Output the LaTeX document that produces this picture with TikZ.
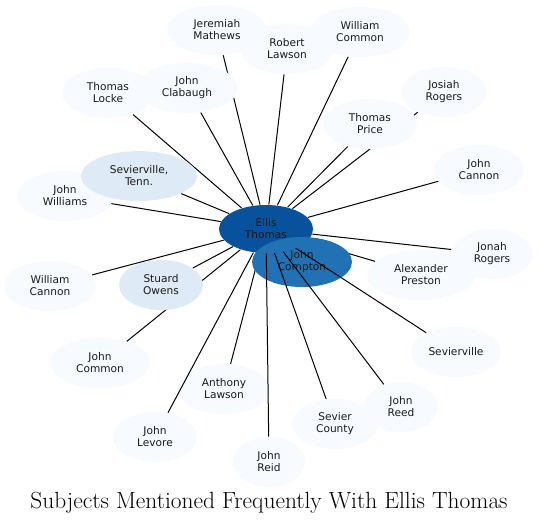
\documentclass[tikz,border=0pt]{standalone}
\usepackage{fontspec}
\usepackage{tikz}
\usetikzlibrary{shapes.geometric}
\newfontfamily\labelfont{DejaVu Sans}
\definecolor{ellisblue}{HTML}{08519C}
\definecolor{comptonblue}{HTML}{2171B5}
\definecolor{paleblue}{HTML}{DEEBF7}
\definecolor{faintblue}{HTML}{F7FBFF}
\pgfdeclarelayer{edges}
\pgfsetlayers{edges,main}

\begin{document}
\begin{tikzpicture}[x=1pt, y=-1pt, line width=1pt]
   \useasboundingbox (0,0) rectangle (539,523);
   \node (title) at (269,508) [anchor=base, font=\fontsize{23.4}{27}\selectfont] {Subjects Mentioned Frequently With Ellis Thomas};
   \begin{scope}[every node/.style={ellipse, fill=faintblue, inner sep=0pt, minimum height=50, align=center, text=black!90, font=\labelfont\fontsize{10.6}{12}\selectfont}]
    \node (v0) at (266,229) [fill=ellisblue, minimum width=94, minimum height=48] {Ellis\\Thomas};
    \node (v1) at (302,262) [fill=comptonblue, minimum width=100] {John\\Compton};
    \node (v2) at (217,30) [minimum width=100] {Jeremiah\\Mathews};
    \node (v3) at (287,49) [minimum width=94] {Robert\\Lawson};
    \node (v4) at (360,32) [minimum width=100] {William\\Common};
    \node (v5) at (444,92) [minimum width=86] {Josiah\\Rogers};
    \node (v6) at (370,124) [minimum width=94] {Thomas\\Price};
    \node (v7) at (479,170) [minimum width=90] {John\\Cannon};
    \node (v8) at (492,254) [minimum width=82] {Jonah\\Rogers};
    \node (v9) at (421,275) [minimum width=108] {Alexander\\Preston};
    \node (v10) at (456,352) [minimum width=90] {Sevierville};
    \node (v11) at (401,407) [minimum width=74] {John\\Reed};
    \node (v12) at (335,424) [minimum width=86] {Sevier\\County};
    \node (v13) at (269,462) [minimum width=72] {John\\Reid};
    \node (v14) at (224,389) [minimum width=92] {Anthony\\Lawson};
    \node (v15) at (155,437) [minimum width=84] {John\\Levore};
    \node (v16) at (100,363) [minimum width=100] {John\\Common};
    \node (v17) at (161,285) [fill=paleblue, minimum width=84] {Stuard\\Owens};
    \node (v18) at (50,286) [minimum width=92] {William\\Cannon};
    \node (v19) at (65,196) [minimum width=96] {John\\Williams};
    \node (v20) at (139,176) [fill=paleblue, minimum width=116] {Sevierville,\\Tenn.};
    \node (v21) at (108,93) [minimum width=92] {Thomas\\Locke};
    \node (v22) at (187,88) [minimum width=102] {John\\Clabaugh};
   \end{scope}
   % edges that run over the nodes
   \begin{scope}[every edge/.style={draw=black, line width=1pt}]
    \draw (v0) edge (v10);
    \draw (v0) edge (v11);
    \draw (v0) edge (v12);
    \draw (v0) edge (v13);
    \draw (v0) edge (v15);
   \end{scope}
   % edges hidden behind the nodes they cross
   \begin{pgfonlayer}{edges}
   \begin{scope}[every edge/.style={draw=black, line width=1pt}]
    \draw (v0) edge (v2);
    \draw (v0) edge (v3);
    \draw (v0) edge (v4);
    \draw (v0) edge (v5);
    \draw (v0) edge (v6);
    \draw (v0) edge (v7);
    \draw (v0) edge (v8);
    \draw (v0) edge (v9);
    \draw (v0) edge (v14);
    \draw (v0) edge (v16);
    \draw (v0) edge (v17);
    \draw (v0) edge (v18);
    \draw (v0) edge (v19);
    \draw (v0) edge (v20);
    \draw (v0) edge (v21);
    \draw (v0) edge (v22);
   \end{scope}
   \end{pgfonlayer}
\end{tikzpicture}
\end{document}
